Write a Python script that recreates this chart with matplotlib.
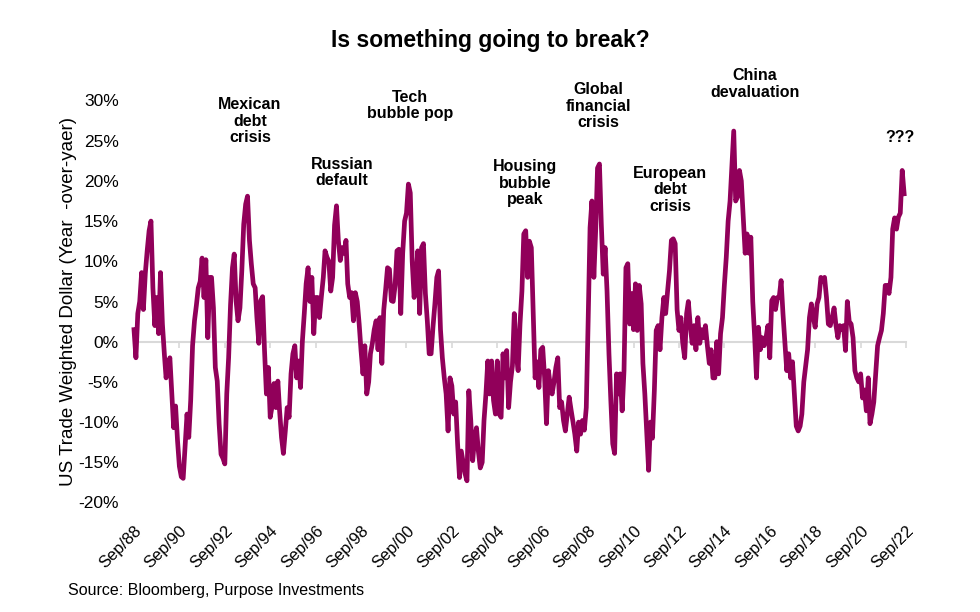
import matplotlib
matplotlib.use('Agg')
import matplotlib.pyplot as plt
import numpy as np
import pandas as pd

plt.rcParams['font.family'] = ['Liberation Sans', 'DejaVu Sans']

# Monthly readings of the YoY % change, in 2-year blocks (Sep to Aug)
sep88_sep90 = [1.5, -2.0, 3.5, 5.0, 8.6, 4.0, 8.5, 11.3, 13.8, 15.0, 6.7, 2.0,
               5.5, 1.0, 8.6, 2.2, -1.5, -4.5, -3.0, -2.0, -6.5, -10.7, -8.0, -12.3]
sep90_sep92 = [-15.5, -16.8, -17.0, -13.0, -9.0, -11.9, -7.3, -0.5, 2.6, 4.5, 6.7, 7.5,
               10.4, 5.5, 10.2, 0.5, 8.0, 8.0, 4.2, -3.2, -4.9, -10.2, -14.0, -14.5]
sep92_sep94 = [-15.2, -6.5, -2.0, 4.6, 9.2, 10.9, 5.0, 2.6, 4.2, 8.8, 14.6, 17.1,
               18.1, 12.6, 9.7, 7.2, 6.7, 3.0, -0.2, 5.1, 5.6, -1.0, -6.5, -3.2]
sep94_sep96 = [-9.4, -8.0, -5.2, -8.2, -4.9, -8.6, -11.9, -13.9, -11.1, -8.2, -9.4, -4.0,
               -1.5, -0.5, -4.5, -2.4, -5.7, 0.0, 3.5, 7.2, 9.2, 5.0, 8.0, 1.0]
sep96_sep98 = [5.5, 5.5, 3.0, 5.6, 8.0, 11.3, 10.5, 10.0, 6.3, 8.0, 14.5, 16.9,
               12.6, 10.1, 11.7, 11.0, 12.6, 7.2, 5.5, 6.1, 2.6, 6.1, 5.0, 2.2]
sep98_sep00 = [-1.1, -4.0, -0.5, -6.5, -5.0, -1.5, -0.2, 1.5, 2.6, -1.0, 3.0, -2.7,
               3.9, 6.5, 9.2, 9.0, 5.1, 5.0, 7.0, 11.3, 11.5, 3.5, 11.0, 15.0]
sep00_sep02 = [16.0, 19.6, 18.5, 10.0, 5.5, 8.0, 11.3, 3.5, 11.7, 12.2, 6.0, 2.6,
               -1.5, -1.5, 1.8, 4.7, 8.0, 8.8, 1.5, -2.0, -4.5, -6.5, -11.1, -4.5]
sep02_sep04 = [-5.5, -9.0, -7.5, -12.7, -16.9, -13.6, -15.0, -16.4, -17.3, -6.1, -9.8, -14.8,
               -12.0, -10.7, -13.6, -15.7, -15.0, -9.8, -6.5, -2.4, -6.5, -2.4, -7.3, -9.0]
sep04_sep06 = [-2.4, -9.0, -9.4, -1.5, -4.5, -1.1, -8.2, -5.0, -3.0, 3.5, -1.5, -3.6,
               2.2, 6.3, 13.4, 13.8, 8.0, 12.5, 11.7, 3.5, -4.5, -2.5, -5.7, -1.0]
sep06_sep08 = [-0.7, -4.5, -10.2, -3.6, -5.5, -6.5, -5.0, -3.2, -2.0, -8.2, -7.5, -9.8,
               -11.1, -9.0, -6.9, -8.5, -10.0, -11.5, -13.6, -10.0, -11.5, -9.8, -11.0, -8.2]
sep08_sep10 = [2.5, 14.2, 17.5, 8.0, 14.2, 21.6, 22.1, 14.6, 8.4, 11.7, 6.3, -1.5,
               -7.3, -12.7, -13.9, -4.0, -6.5, -4.0, -8.6, -3.6, 9.2, 9.7, 2.2, 6.0]
sep10_sep12 = [1.5, 7.2, 1.4, 7.0, 4.7, -2.7, -6.5, -11.1, -16.0, -10.0, -12.0, -6.1,
               1.4, 2.0, -1.0, 3.0, 5.5, 3.5, 6.3, 8.8, 12.6, 12.8, 12.2, 4.0]
sep12_sep14 = [1.4, 3.0, -0.2, -2.0, 3.5, 5.0, 2.0, -0.2, 2.0, -1.0, 3.0, -0.2,
               1.5, 0.5, 2.0, -0.5, -2.7, -1.0, -4.5, -4.5, 0.0, -4.0, 1.0, 3.0]
sep14_sep16 = [7.0, 10.5, 15.0, 17.5, 22.1, 26.2, 17.5, 18.0, 21.3, 20.0, 15.5, 11.0,
               13.4, 11.0, 13.0, 5.0, 0.5, -4.5, 1.8, -1.0, 0.5, -0.5, 0.5, 2.0]
sep16_sep18 = [-2.0, 5.1, 5.5, 4.0, 5.5, 5.5, 7.6, 3.5, -0.2, -3.6, -1.5, -4.5,
               -2.5, -6.5, -10.5, -11.1, -10.5, -9.0, -5.0, -3.0, -1.0, 3.0, 4.7, 3.0]
sep18_sep20 = [1.8, 4.7, 5.5, 8.0, 7.5, 8.0, 5.5, 2.2, 2.0, 3.0, 4.2, 2.0,
               0.5, 2.0, 1.5, 2.0, -1.1, 5.0, 2.5, 2.2, 0.5, -3.6, -4.5, -5.0]
sep20_sep22 = [-4.0, -7.0, -6.0, -8.6, -4.5, -10.2, -9.0, -7.5, -4.0, -0.5, 0.5, 1.4,
               3.5, 7.0, 7.0, 6.0, 8.0, 14.0, 15.4, 14.0, 15.5, 16.0, 21.3, 18.4]

tick_labels = ['Sep/88', 'Sep/90', 'Sep/92', 'Sep/94', 'Sep/96', 'Sep/98', 'Sep/00',
               'Sep/02', 'Sep/04', 'Sep/06', 'Sep/08', 'Sep/10', 'Sep/12', 'Sep/14',
               'Sep/16', 'Sep/18', 'Sep/20', 'Sep/22']
y_ticks = [-20, -15, -10, -5, 0, 5, 10, 15, 20, 25, 30]

events = ['Mexican\ndebt\ncrisis', 'Russian\ndefault', 'Tech\nbubble pop',
          'Housing\nbubble\npeak', 'Global\nfinancial\ncrisis', 'European\ndebt\ncrisis',
          'China\ndevaluation', '???']

values = np.concatenate([sep88_sep90, sep90_sep92, sep92_sep94, sep94_sep96, sep96_sep98,
                         sep98_sep00, sep00_sep02, sep02_sep04, sep04_sep06, sep06_sep08,
                         sep08_sep10, sep10_sep12, sep12_sep14, sep14_sep16, sep16_sep18,
                         sep18_sep20, sep20_sep22])
dates = pd.date_range('1988-09-30', periods=len(values), freq='ME')
tick_dates = pd.date_range('1988-09-30', periods=len(tick_labels), freq='24ME')

W, H = 980, 612
fig = plt.figure(figsize=(W / 100, H / 100), dpi=100)
L, R, T, B = 134, 906, 100.5, 502.5
ax = fig.add_axes([L / W, 1 - B / H, (R - L) / W, (B - T) / H])

color = '#91005A'
ax.plot(dates, values, color=color, lw=3.4, solid_joinstyle='round', clip_on=False, zorder=3)

ax.set_ylim(-20, 30)
ax.set_xlim(tick_dates[0], tick_dates[-1])
ax.set_yticks(y_ticks)
ax.set_yticklabels([f'{v}%' for v in y_ticks])
ax.set_xticks(tick_dates)
ax.set_xticklabels(tick_labels, rotation=45, ha='right', va='top', rotation_mode='anchor')
ax.tick_params(axis='y', length=0, pad=11, labelsize=12.5)
ax.tick_params(axis='x', length=0, pad=15, labelsize=12)
for s in ax.spines.values():
    s.set_visible(False)

# zero line with tick marks
sec = ax.secondary_xaxis(20 / 50)
sec.set_xticks(tick_dates)
sec.set_xticklabels([])
sec.spines['bottom'].set_color('#d9d9d9')
sec.spines['bottom'].set_linewidth(1.5)
sec.spines['top'].set_visible(False)
sec.tick_params(axis='x', length=4, width=1.2, color='#d9d9d9', direction='out')
sec.set_zorder(1)

ax.set_ylabel('US Trade Weighted Dollar (Year  -over-yaer)', fontsize=13.5, labelpad=1)

fig.text(490 / W, 1 - 41 / H, 'Is something going to break?', ha='center', va='center',
         fontsize=16.5, fontweight='bold')
fig.text(68 / W, 1 - 590 / H, 'Source: Bloomberg, Purpose Investments', ha='left', va='center',
         fontsize=11.5)

event_pos = [(250, 121), (342, 172.5), (410, 105.5), (525, 183), (598, 106), (670, 190),
             (755, 84), (900, 138)]
for txt, (px, py) in zip(events, event_pos):
    fig.text(px / W, 1 - py / H, txt, ha='center', va='center', fontsize=11.5,
             fontweight='bold', linespacing=1.1)

fig.savefig('out.png', dpi=100)
